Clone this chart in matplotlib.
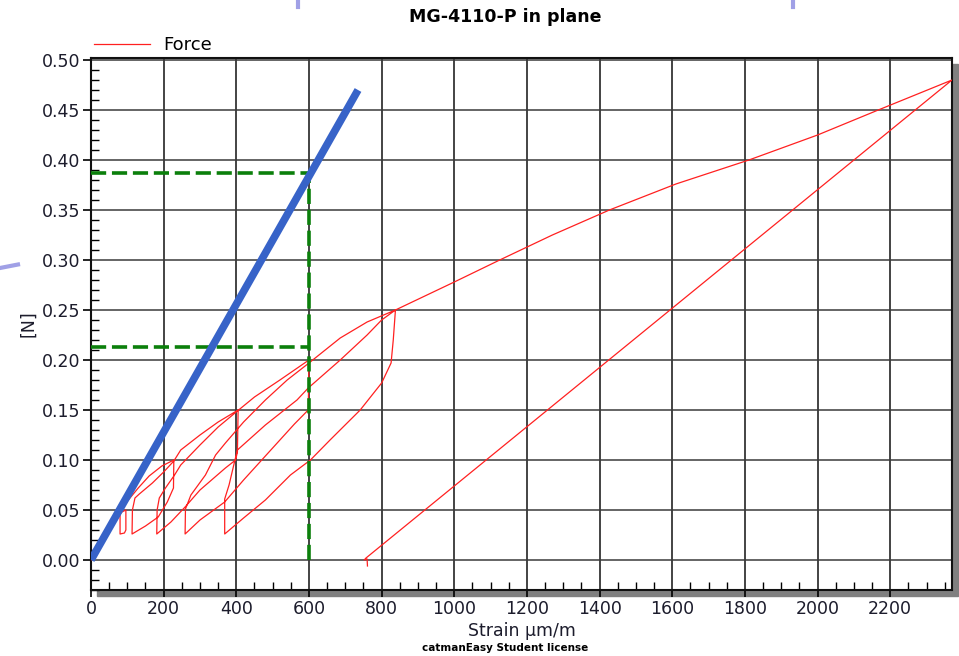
import matplotlib
matplotlib.use('Agg')
import matplotlib.pyplot as plt
import numpy as np
from matplotlib.lines import Line2D
from matplotlib.patches import Rectangle
from matplotlib.ticker import MultipleLocator, FormatStrFormatter

# Force curve (strain in µm/m, force in N)
load0_x = [0, 30, 60, 85, 96]
load0_y = [0.0, 0.02, 0.038, 0.048, 0.05]
unload1_x = [96, 96, 92, 80]
unload1_y = [0.05, 0.03, 0.027, 0.026]
load1_x = [80, 80, 85, 96, 130, 160, 195, 228]
load1_y = [0.026, 0.05, 0.053, 0.057, 0.072, 0.084, 0.094, 0.10]
unload2_x = [228, 227, 210, 185, 150, 113]
unload2_y = [0.10, 0.072, 0.058, 0.043, 0.034, 0.026]
load2_x = [113, 114, 121, 133, 169, 200, 228, 247, 300, 350, 405]
load2_y = [0.026, 0.05, 0.062, 0.066, 0.077, 0.088, 0.099, 0.11, 0.125, 0.138, 0.15]
unload3_x = [405, 403, 398, 370, 300, 259, 220, 181]
unload3_y = [0.15, 0.108, 0.10, 0.092, 0.07, 0.053, 0.038, 0.026]
load3_x = [181, 182, 188, 205, 230, 247, 300, 350, 403, 450, 520, 600]
load3_y = [0.026, 0.05, 0.062, 0.072, 0.085, 0.095, 0.115, 0.133, 0.149, 0.163, 0.18, 0.20]
unload4_x = [600, 598, 560, 480, 420, 368, 300, 259]
unload4_y = [0.20, 0.15, 0.136, 0.104, 0.08, 0.058, 0.04, 0.026]
load4_x = [259, 260, 275, 315, 343, 370, 420, 480, 540, 600, 686, 760, 838]
load4_y = [0.026, 0.051, 0.065, 0.085, 0.105, 0.117, 0.138, 0.16, 0.18, 0.197, 0.222, 0.238, 0.25]
unload5_x = [838, 832, 826, 800, 741, 658, 604, 549, 480, 420, 368]
unload5_y = [0.25, 0.22, 0.197, 0.177, 0.15, 0.12, 0.10, 0.085, 0.06, 0.042, 0.026]
load5_x = [368, 368, 380, 393, 403, 480, 567, 598, 686, 760, 800, 838,
           1000, 1125, 1270, 1427, 1610, 1811, 2000, 2167, 2370]
load5_y = [0.026, 0.061, 0.075, 0.095, 0.11, 0.135, 0.16, 0.172, 0.20, 0.225, 0.24, 0.25,
           0.278, 0.30, 0.325, 0.35, 0.376, 0.40, 0.425, 0.45, 0.48]
unload6_x = [2370, 757, 752, 760, 761]
unload6_y = [0.48, 0.002, 0.0, 0.001, -0.006]

branches = [(load0_x, load0_y), (unload1_x, unload1_y), (load1_x, load1_y),
            (unload2_x, unload2_y), (load2_x, load2_y), (unload3_x, unload3_y),
            (load3_x, load3_y), (unload4_x, unload4_y), (load4_x, load4_y),
            (unload5_x, unload5_y), (load5_x, load5_y), (unload6_x, unload6_y)]
strain = np.concatenate([b[0] for b in branches])
force = np.concatenate([b[1] for b in branches])

# initial slope line and read-off marks
slope_x = [0, 735]
slope_y = [0.0, 0.47]
mark_strain = 600
mark_force = [0.213, 0.387]

W, H = 959, 656
fig = plt.figure(figsize=(W / 100, H / 100), dpi=100)
ax_l, ax_r, ax_t, ax_b = 91, 952, 58, 590
ax = fig.add_axes([ax_l / W, 1 - ax_b / H, (ax_r - ax_l) / W, (ax_b - ax_t) / H])

# grey drop shadow behind the plot frame
shadow = Rectangle(((ax_l + 6) / W, 1 - (ax_b + 6) / H), (ax_r - ax_l) / W, (ax_b - ax_t) / H,
                   transform=fig.transFigure, color='#808080', zorder=-1)
fig.patches.append(shadow)

ax.plot(strain, force, color='#ff2020', lw=0.9, label='Force', zorder=3)
for f in mark_force:
    ax.plot([0, mark_strain], [f, f], color='#0b7f0b', lw=2.6, dashes=(4.2, 1.6), zorder=4)
ax.plot([mark_strain, mark_strain], [0, max(mark_force)], color='#0b7f0b', lw=2.6,
        dashes=(4.2, 1.6), zorder=4)
ax.plot(slope_x, slope_y, color='#3763c8', lw=5.5, solid_capstyle='butt', zorder=5)

ax.set_xlim(0, 2370)
ax.set_ylim(-0.03, 0.502)
ax.xaxis.set_major_locator(MultipleLocator(200))
ax.xaxis.set_minor_locator(MultipleLocator(50))
ax.yaxis.set_major_locator(MultipleLocator(0.05))
ax.yaxis.set_minor_locator(MultipleLocator(0.01))
ax.yaxis.set_major_formatter(FormatStrFormatter('%.2f'))

ax.set_axisbelow(True)
ax.xaxis.grid(True, which='major', color='#111111', lw=1.1)
ax.yaxis.grid(True, which='major', color='#3a3a3a', lw=1.1)

for s in ax.spines.values():
    s.set_linewidth(1.5)
    s.set_color('#111111')

lab_col = '#1c1c2c'
ax.tick_params(axis='x', which='major', direction='out', length=5, width=1.2,
               labelsize=12.5, labelcolor=lab_col, pad=2)
ax.tick_params(axis='x', which='minor', direction='in', length=6, width=1)
ax.tick_params(axis='y', which='major', direction='out', length=6, width=1.2,
               labelsize=12.5, labelcolor=lab_col, pad=2)
ax.tick_params(axis='y', which='minor', direction='in', length=6, width=1)

ax.set_xlabel('Strain µm/m', fontsize=12.5, color=lab_col, labelpad=3)
ax.set_ylabel('[N]', fontsize=12.5, color=lab_col, labelpad=3)

ax.legend(loc='lower left', bbox_to_anchor=(0.0, 1.002), frameon=False, fontsize=13,
          handlelength=3.1, handletextpad=0.75, borderaxespad=0, borderpad=0.15)

fig.text(505 / W, 1 - 17 / H, 'MG-4110-P in plane', ha='center', va='center',
         fontsize=12.5, fontweight='bold')
fig.text(505 / W, 1 - 648 / H, 'catmanEasy Student license', ha='center', va='center',
         fontsize=7.5, fontweight='bold')

# lavender strokes from the slide behind the screenshot
deco = '#a0a0e6'
fig.add_artist(Line2D([298 / W] * 2, [1, 1 - 7 / H], transform=fig.transFigure, color=deco, lw=3))
fig.add_artist(Line2D([793 / W] * 2, [1, 1 - 7 / H], transform=fig.transFigure, color=deco, lw=3))
fig.add_artist(Line2D([0, 18 / W], [1 - 268 / H, 1 - 264.5 / H], transform=fig.transFigure,
                      color=deco, lw=3))

fig.savefig('out.png', dpi=100)
